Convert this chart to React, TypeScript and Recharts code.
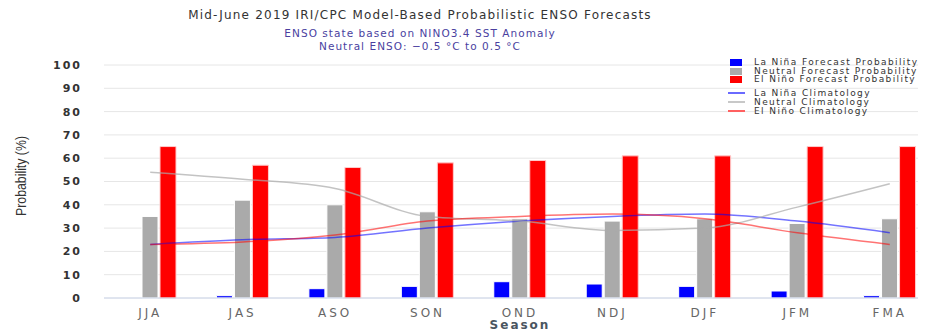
import {
  ComposedChart,
  Bar,
  Line,
  XAxis,
  YAxis,
  CartesianGrid,
  Legend,
} from "recharts";

const seasons = ["JJA", "JAS", "ASO", "SON", "OND", "NDJ", "DJF", "JFM", "FMA"];

// forecast probabilities (%)
const laNinaProb = [0, 1, 4, 5, 7, 6, 5, 3, 1];
const neutralProb = [35, 42, 40, 37, 34, 33, 34, 32, 34];
const elNinoProb = [65, 57, 56, 58, 59, 61, 61, 65, 65];

// climatology (%)
const laNinaClim = [23, 25, 26, 30, 33, 35, 36, 33, 28];
const neutralClim = [54, 51, 47, 35, 33, 29, 30, 39, 49];
const elNinoClim = [23, 24, 27, 33, 35, 36, 34, 28, 23];

const yTicks = [0, 10, 20, 30, 40, 50, 60, 70, 80, 90, 100];

const chartData = seasons.map((season, i) => ({
  season,
  laNina: laNinaProb[i],
  neutral: neutralProb[i],
  elNino: elNinoProb[i],
  laNinaClim: laNinaClim[i],
  neutralClim: neutralClim[i],
  elNinoClim: elNinoClim[i],
}));

const FONT = "'DejaVu Sans', Verdana, sans-serif";

const legendOrder = [
  "laNina",
  "neutral",
  "elNino",
  "laNinaClim",
  "neutralClim",
  "elNinoClim",
];
const legendTops = [1, 9.5, 18, 32, 40.7, 49.5];
const legendIconColors: Record<string, string> = {
  laNina: "#0000ff",
  neutral: "#aaaaaa",
  elNino: "#ff0000",
  laNinaClim: "#6a6aff",
  neutralClim: "#c8c8c8",
  elNinoClim: "#ff6060",
};

function EnsoLegend({ payload }: any) {
  const items = [...(payload || [])].sort(
    (a: any, b: any) =>
      legendOrder.indexOf(a.dataKey) - legendOrder.indexOf(b.dataKey)
  );
  return (
    <div style={{ position: "relative", width: 200, height: 62 }}>
      {items.map((entry: any, i: number) => {
        const isLine = entry.type === "line";
        const color = legendIconColors[entry.dataKey] || entry.color;
        return (
          <div
            key={entry.dataKey}
            style={{
              position: "absolute",
              top: legendTops[i],
              left: 0,
              height: 10,
              width: 200,
            }}
          >
            {isLine ? (
              <div
                style={{
                  position: "absolute",
                  left: 2,
                  top: 4,
                  width: 17,
                  height: 2,
                  background: color,
                }}
              />
            ) : (
              <div
                style={{
                  position: "absolute",
                  left: 4,
                  top: 2,
                  width: 12,
                  height: 7,
                  background: color,
                }}
              />
            )}
            <span
              style={{
                position: "absolute",
                left: 28,
                top: 0,
                fontFamily: FONT,
                fontSize: 9,
                lineHeight: "10px",
                letterSpacing: 1.4,
                color: "#333",
                whiteSpace: "nowrap",
              }}
            >
              {entry.value}
            </span>
          </div>
        );
      })}
    </div>
  );
}

export default function App() {
  return (
    <div
      style={{
        position: "relative",
        width: 926,
        height: 332,
        overflow: "hidden",
        margin: "-8px 0 0 -8px",
        background: "#fff",
      }}
    >
      <ComposedChart
        width={948}
        height={332}
        data={chartData}
        margin={{ top: 65, right: 12, bottom: 12, left: 44 }}
        barGap={2}
      >
        <CartesianGrid vertical={false} stroke="#e6e6e6" />
        <XAxis
          dataKey="season"
          height={22}
          interval={0}
          tickLine={false}
          tickSize={0}
          tickMargin={10}
          axisLine={{ stroke: "#ccd6eb" }}
          tick={{ fontFamily: FONT, fontSize: 12, fill: "#666", letterSpacing: 3 }}
        />
        <YAxis
          width={60}
          domain={[0, 100]}
          ticks={yTicks}
          interval={0}
          axisLine={false}
          tickLine={false}
          tickSize={0}
          tickMargin={22}
          tick={{
            fontFamily: FONT,
            fontSize: 11,
            fontWeight: "bold",
            fill: "#333",
            letterSpacing: 2,
          }}
        />
        <Legend
          layout="vertical"
          align="center"
          verticalAlign="middle"
          wrapperStyle={{ top: 56, left: 726, width: 200, height: 62 }}
          content={<EnsoLegend />}
        />
        <Bar
          dataKey="laNina"
          name="La Niña Forecast Probability"
          fill="#0000ff"
          stroke="#ffffff"
          strokeWidth={1}
          barSize={16}
          legendType="rect"
          isAnimationActive={false}
        />
        <Bar
          dataKey="neutral"
          name="Neutral Forecast Probability"
          fill="#aaaaaa"
          stroke="#ffffff"
          strokeWidth={1}
          barSize={16}
          legendType="rect"
          isAnimationActive={false}
        />
        <Bar
          dataKey="elNino"
          name="El Niño Forecast Probability"
          fill="#ff0000"
          stroke="#ffcccc"
          strokeWidth={1}
          barSize={16}
          legendType="rect"
          isAnimationActive={false}
        />
        <Line
          dataKey="laNinaClim"
          name="La Niña Climatology"
          type="monotone"
          stroke="#0000ff"
          strokeOpacity={0.55}
          strokeWidth={1.5}
          dot={false}
          activeDot={false}
          legendType="line"
          isAnimationActive={false}
        />
        <Line
          dataKey="neutralClim"
          name="Neutral Climatology"
          type="monotone"
          stroke="#aaaaaa"
          strokeOpacity={0.7}
          strokeWidth={1.5}
          dot={false}
          activeDot={false}
          legendType="line"
          isAnimationActive={false}
        />
        <Line
          dataKey="elNinoClim"
          name="El Niño Climatology"
          type="monotone"
          stroke="#ff0000"
          strokeOpacity={0.55}
          strokeWidth={1.5}
          dot={false}
          activeDot={false}
          legendType="line"
          isAnimationActive={false}
        />
      </ComposedChart>

      <div
        style={{
          position: "absolute",
          left: 0,
          top: 7,
          width: 840,
          textAlign: "center",
          fontFamily: FONT,
          fontSize: 12,
          letterSpacing: 1.2,
          color: "#333",
          lineHeight: "16px",
        }}
      >
        Mid-June 2019 IRI/CPC Model-Based Probabilistic ENSO Forecasts
      </div>
      <div
        style={{
          position: "absolute",
          left: 0,
          top: 27,
          width: 840,
          textAlign: "center",
          fontFamily: FONT,
          fontSize: 10.5,
          letterSpacing: 1.05,
          color: "#4a3f9f",
          lineHeight: "13px",
        }}
      >
        <div>ENSO state based on NINO3.4 SST Anomaly</div>
        <div>Neutral ENSO: −0.5 °C to 0.5 °C</div>
      </div>
      <div
        style={{
          position: "absolute",
          left: 21,
          top: 176,
          transform: "translate(-50%, -50%) rotate(-90deg) scaleX(0.82)",
          fontFamily: "'Liberation Sans', Arial, sans-serif",
          fontSize: 15,
          lineHeight: "16px",
          color: "#333",
          whiteSpace: "nowrap",
        }}
      >
        Probability (%)
      </div>
      <div
        style={{
          position: "absolute",
          left: 520,
          top: 325,
          transform: "translate(-50%, -50%)",
          fontFamily: FONT,
          fontSize: 12,
          fontWeight: "bold",
          lineHeight: "12px",
          letterSpacing: 2,
          color: "#4a5560",
          whiteSpace: "nowrap",
        }}
      >
        Season
      </div>
    </div>
  );
}
